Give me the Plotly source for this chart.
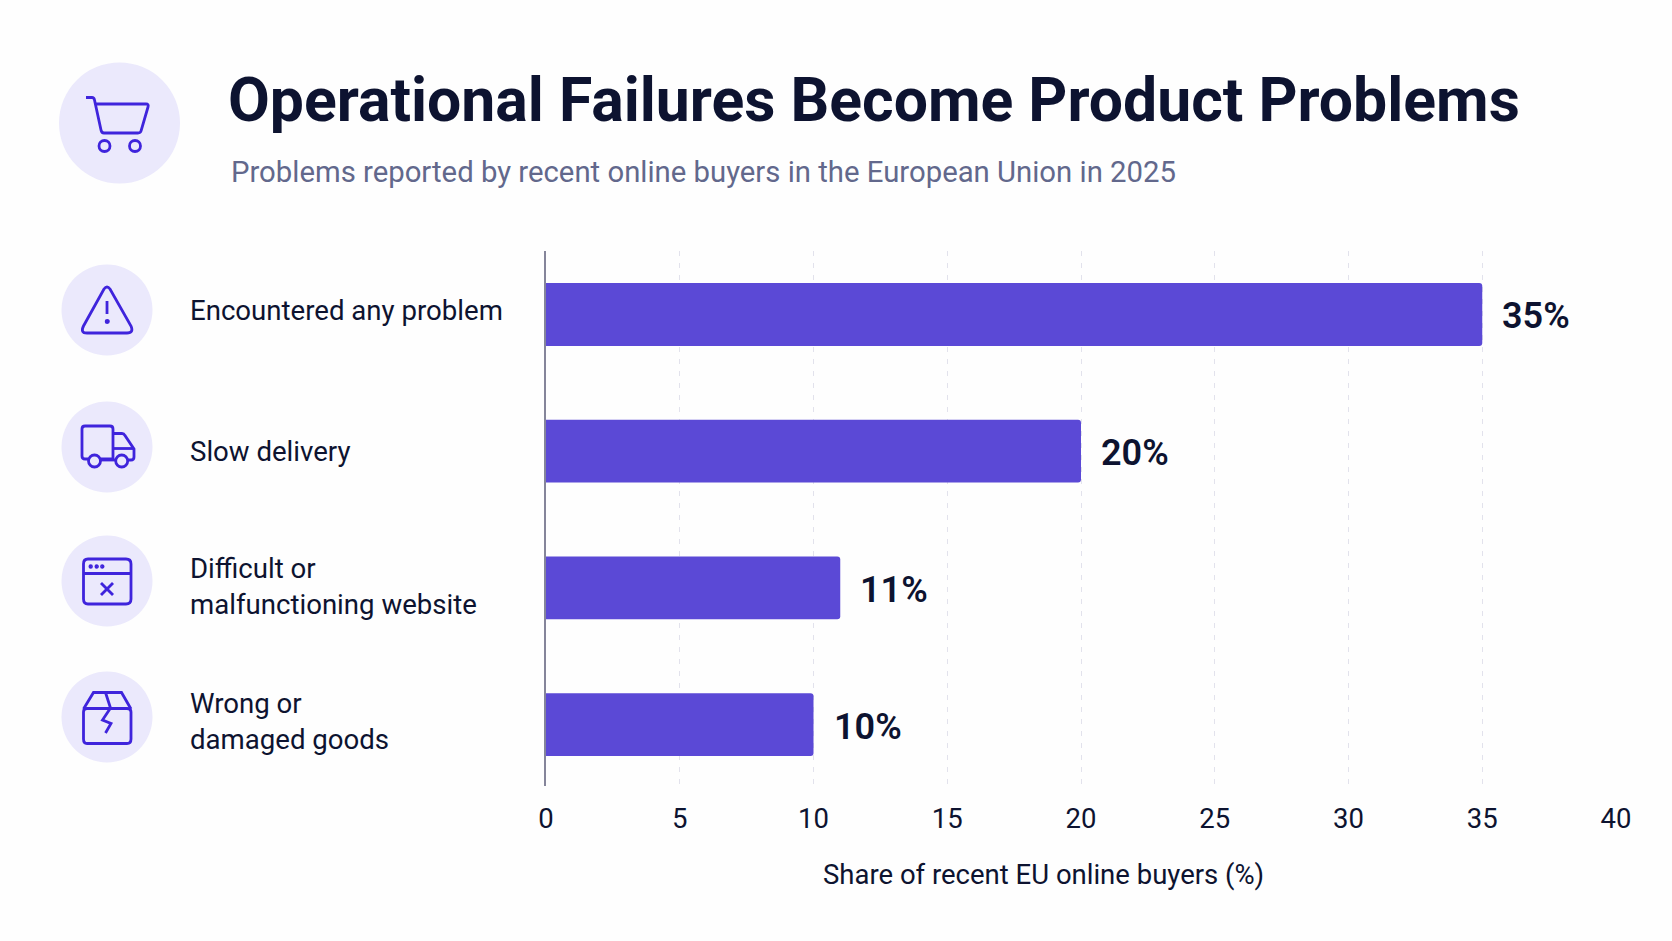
import re
import plotly.graph_objects as go

WIDTH, HEIGHT = 1672, 941

CATEGORIES = ["Encountered any problem", "Slow delivery",
              "Difficult or<br>malfunctioning website", "Wrong or<br>damaged goods"]
SHARES = [35, 20, 11, 10]
X_TICKS = [0, 5, 10, 15, 20, 25, 30, 35, 40]

TITLE = "Operational Failures Become Product Problems"
SUBTITLE = "Problems reported by recent online buyers in the European Union in 2025"
X_TITLE = "Share of recent EU online buyers (%)"

INK = "#0d1330"
SLATE = "#62688c"
BAR = "#5b49d6"
TINT = "#ebe9fc"
ICON = "#3f24dc"
GRID = "#e2e2ec"
AXIS = "#85859a"
FONT = "Roboto"


def px_path(d):
    """Turn a path written in canvas pixels into paper coordinates."""
    parts = re.findall(r"[MLCQZ]|-?\d+\.?\d*", d)
    out, is_x = [], True
    for p in parts:
        if p.isalpha():
            out.append(p)
            is_x = True
        else:
            v = float(p)
            out.append(f"{v / WIDTH:.5f}" if is_x else f"{1 - v / HEIGHT:.5f}")
            is_x = not is_x
    return " ".join(out)


def line_shape(d, fill=None):
    return dict(type="path", xref="paper", yref="paper", path=px_path(d),
                line=dict(color=ICON, width=2.8),
                fillcolor=fill or "rgba(0,0,0,0)", layer="above")


def circle(cx, cy, r, color=None, stroke=True):
    return dict(type="circle", xref="paper", yref="paper",
                x0=(cx - r) / WIDTH, x1=(cx + r) / WIDTH,
                y0=1 - (cy + r) / HEIGHT, y1=1 - (cy - r) / HEIGHT,
                fillcolor=color or "rgba(0,0,0,0)",
                line=dict(color=ICON, width=2.8) if stroke else dict(width=0),
                layer="above")


shapes = [
    # badge discs
    circle(119.5, 123, 60.5, TINT, False),
    circle(107, 310, 45.5, TINT, False),
    circle(107, 447, 45.5, TINT, False),
    circle(107, 581, 45.5, TINT, False),
    circle(107, 717, 45.5, TINT, False),
    # cart
    line_shape("M 86 97.5 L 92 97.5 Q 94 97.5 94.5 100 L 101 130 Q 101.5 133 104 133 L 138 133 "
               "Q 140.5 133 141 131 L 148 107 Q 149 104 146 104 L 95.5 104"),
    circle(104.5, 146, 5.5), circle(135, 146, 5.5),
    # warning triangle
    line_shape("M 104 289 Q 107 285 110 289 L 131 326 Q 134 333 127 333 L 87 333 "
               "Q 80 333 83.5 326 Z"),
    line_shape("M 107 301 L 107 314"),
    circle(107.3, 321.5, 1.1, ICON),
    # truck
    line_shape("M 88 459 L 85 459 Q 82 459 82 456 L 82 429 Q 82 426 85 426 L 110 426 "
               "Q 113 426 113 429 L 113 459 L 101 459"),
    line_shape("M 113 433.5 L 122 433.5 Q 124 433.5 125 435.5 L 134 449 L 134 457 Q 134 460 131 460 L 128 460"),
    line_shape("M 113 448.5 L 134 448.5"),
    line_shape("M 100 460 L 115 460"),
    circle(94.5, 461, 6), circle(121.7, 461, 6),
    # browser window with error mark
    line_shape("M 88 559 L 126 559 Q 131 559 131 564 L 131 599 Q 131 604 126 604 L 88 604 "
               "Q 83.5 604 83.5 599 L 83.5 564 Q 83.5 559 88 559 Z"),
    line_shape("M 83.5 573.5 L 131 573.5"),
    circle(90.7, 566.5, 0.8, ICON), circle(96.7, 566.5, 0.8, ICON), circle(102.3, 566.5, 0.8, ICON),
    line_shape("M 101 583 L 113 595"),
    line_shape("M 113 583 L 101 595"),
    # damaged parcel
    line_shape("M 87 708.5 L 127 708.5 Q 131 708.5 131 712 L 131 739 Q 131 743.5 127 743.5 L 87 743.5 "
               "Q 83.5 743.5 83.5 739 L 83.5 712 Q 83.5 708.5 87 708.5 Z"),
    line_shape("M 83.5 709 L 93.5 692.5 L 121.5 692.5 L 131 709"),
    line_shape("M 105.5 692.5 L 110.5 708 L 102.5 720 L 111 723.5 L 105.5 733"),
]

annotations = [
    dict(text=f"<b>{TITLE}</b>", x=226 / WIDTH, y=1 - 100 / HEIGHT, xref="paper", yref="paper",
         xanchor="left", yanchor="middle", showarrow=False,
         font=dict(family=FONT, size=60.7, color=INK)),
    dict(text=SUBTITLE, x=229 / WIDTH, y=1 - 172 / HEIGHT, xref="paper", yref="paper",
         xanchor="left", yanchor="middle", showarrow=False,
         font=dict(family=FONT, size=29.3, color=SLATE)),
    dict(text=X_TITLE, x=1043 / WIDTH, y=1 - 874 / HEIGHT, xref="paper", yref="paper",
         xanchor="center", yanchor="middle", showarrow=False,
         font=dict(family=FONT, size=27.5, color=INK)),
]
# Vertical nudges for the row labels, in pixels
label_nudges = [4, 0, 1, 3]
for cat, val, nudge in zip(CATEGORIES, SHARES, label_nudges):
    annotations.append(dict(text=cat, x=188 / WIDTH, y=cat, xref="paper", yref="y",
                            xanchor="left", yanchor="middle", align="left", showarrow=False,
                            yshift=nudge, font=dict(family=FONT, size=27.6, color=INK)))
    annotations.append(dict(text=f"{val}%", x=val, y=cat, xref="x", yref="y",
                            xanchor="left", yanchor="middle", showarrow=False, xshift=18,
                            yshift=-2, font=dict(family=FONT, size=36, color=INK, weight=600)))

fig = go.Figure(go.Bar(x=SHARES, y=CATEGORIES, orientation="h", width=0.46,
                       marker=dict(color=BAR, line=dict(width=0), cornerradius=3),
                       hoverinfo="skip"))

fig.update_layout(
    width=WIDTH, height=HEIGHT, margin=dict(l=0, r=0, t=0, b=0, autoexpand=False),
    paper_bgcolor="#fefefe", plot_bgcolor="#fefefe", showlegend=False,
    shapes=shapes, annotations=annotations,
    font=dict(family=FONT, color=INK),
    xaxis=dict(domain=[546 / WIDTH, 1616 / WIDTH], range=[0, 40], tickvals=X_TICKS,
               automargin=False,
               showgrid=True, gridcolor=GRID, griddash="5px,7px", gridwidth=1,
               zeroline=False, showline=False, ticks="", ticklabelstandoff=13,
               tickfont=dict(family=FONT, size=27.5, color=INK)),
    yaxis=dict(domain=[1 - 786 / HEIGHT, 1 - 251 / HEIGHT], range=[3.449, -0.464],
               automargin=False,
               type="category", categoryorder="array", categoryarray=CATEGORIES,
               showticklabels=False, ticks="", showgrid=False, zeroline=False,
               showline=True, linecolor=AXIS, linewidth=1.5),
)

fig.write_html("out.html", config=dict(displayModeBar=False))
